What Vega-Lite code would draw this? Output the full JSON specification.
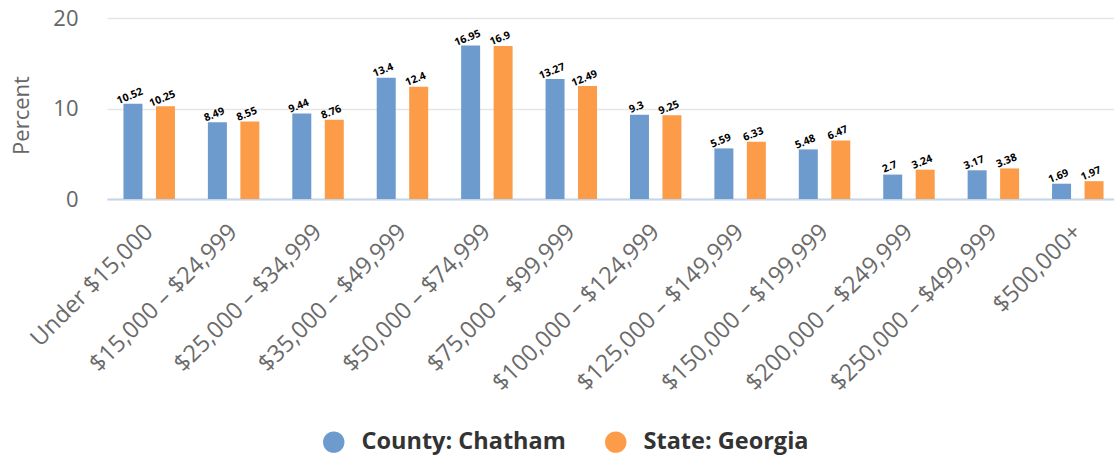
{
  "$schema": "https://vega.github.io/schema/vega-lite/v6.json",
  "width": 1006,
  "height": 181,
  "autosize": {"type": "none"},
  "padding": {"left": 108, "top": 18, "right": 0, "bottom": 258},
  "background": "white",
  "config": {
    "font": "Open Sans",
    "view": {"stroke": null}
  },
  "data": {
    "values": [
      {"cat": "Under $15,000", "series": "County: Chatham", "value": 10.52},
      {"cat": "Under $15,000", "series": "State: Georgia", "value": 10.25},
      {"cat": "$15,000 – $24,999", "series": "County: Chatham", "value": 8.49},
      {"cat": "$15,000 – $24,999", "series": "State: Georgia", "value": 8.55},
      {"cat": "$25,000 – $34,999", "series": "County: Chatham", "value": 9.44},
      {"cat": "$25,000 – $34,999", "series": "State: Georgia", "value": 8.76},
      {"cat": "$35,000 – $49,999", "series": "County: Chatham", "value": 13.4},
      {"cat": "$35,000 – $49,999", "series": "State: Georgia", "value": 12.4},
      {"cat": "$50,000 – $74,999", "series": "County: Chatham", "value": 16.95},
      {"cat": "$50,000 – $74,999", "series": "State: Georgia", "value": 16.9},
      {"cat": "$75,000 – $99,999", "series": "County: Chatham", "value": 13.27},
      {"cat": "$75,000 – $99,999", "series": "State: Georgia", "value": 12.49},
      {"cat": "$100,000 – $124,999", "series": "County: Chatham", "value": 9.3},
      {"cat": "$100,000 – $124,999", "series": "State: Georgia", "value": 9.25},
      {"cat": "$125,000 – $149,999", "series": "County: Chatham", "value": 5.59},
      {"cat": "$125,000 – $149,999", "series": "State: Georgia", "value": 6.33},
      {"cat": "$150,000 – $199,999", "series": "County: Chatham", "value": 5.48},
      {"cat": "$150,000 – $199,999", "series": "State: Georgia", "value": 6.47},
      {"cat": "$200,000 – $249,999", "series": "County: Chatham", "value": 2.7},
      {"cat": "$200,000 – $249,999", "series": "State: Georgia", "value": 3.24},
      {"cat": "$250,000 – $499,999", "series": "County: Chatham", "value": 3.17},
      {"cat": "$250,000 – $499,999", "series": "State: Georgia", "value": 3.38},
      {"cat": "$500,000+", "series": "County: Chatham", "value": 1.69},
      {"cat": "$500,000+", "series": "State: Georgia", "value": 1.97}
    ]
  },
  "encoding": {
    "x": {
      "field": "cat", "type": "nominal", "sort": null,
      "scale": {"paddingInner": 0, "paddingOuter": 0, "range": [-1, 1012]},
      "axis": {
        "title": null, "labelAngle": -45, "labelFontSize": 23.5, "labelColor": "#6a6a6a",
        "labelAlign": "right", "labelBaseline": "middle", "labelPadding": 29, "labelOffset": 0,
        "ticks": false, "domainColor": "#c6d6ea", "domainWidth": 2, "grid": false,
        "labelOverlap": false, "labelLimit": 400
      }
    },
    "xOffset": {
      "field": "series", "type": "nominal",
      "scale": {"paddingInner": 0.415, "paddingOuter": 0.507}
    },
    "y": {
      "field": "value", "type": "quantitative",
      "scale": {"domain": [0, 20]},
      "axis": {
        "title": "Percent", "titleFontSize": 22, "titleColor": "#666666", "titleFontWeight": "normal",
        "titleX": -87, "titleY": 97, "titleAngle": -90, "titleAlign": "center", "titleBaseline": "middle",
        "values": [0, 10, 20], "labelFontSize": 22, "labelColor": "#666666", "labelPadding": 30,
        "ticks": false, "domain": false, "gridColor": "#e6e6e6", "gridWidth": 1.5
      }
    }
  },
  "layer": [
    {
      "mark": {"type": "bar"},
      "encoding": {
        "color": {
          "field": "series", "type": "nominal",
          "scale": {"range": ["#6d9bcd", "#fc9c48"]},
          "legend": {
            "title": null, "orient": "none", "legendX": 214, "legendY": 412,
            "direction": "horizontal", "symbolType": "circle", "symbolSize": 460,
            "symbolStrokeWidth": 0, "labelFontSize": 23.5, "labelFontWeight": "bold",
            "labelColor": "#333333", "labelOffset": 16, "columnPadding": 38, "labelLimit": 400
          }
        }
      }
    },
    {
      "mark": {"type": "text", "angle": -22, "fontSize": 10.5, "fontWeight": "bold", "color": "#000000", "baseline": "bottom", "dy": -3},
      "encoding": {
        "text": {"field": "value", "type": "nominal"}
      }
    }
  ]
}
